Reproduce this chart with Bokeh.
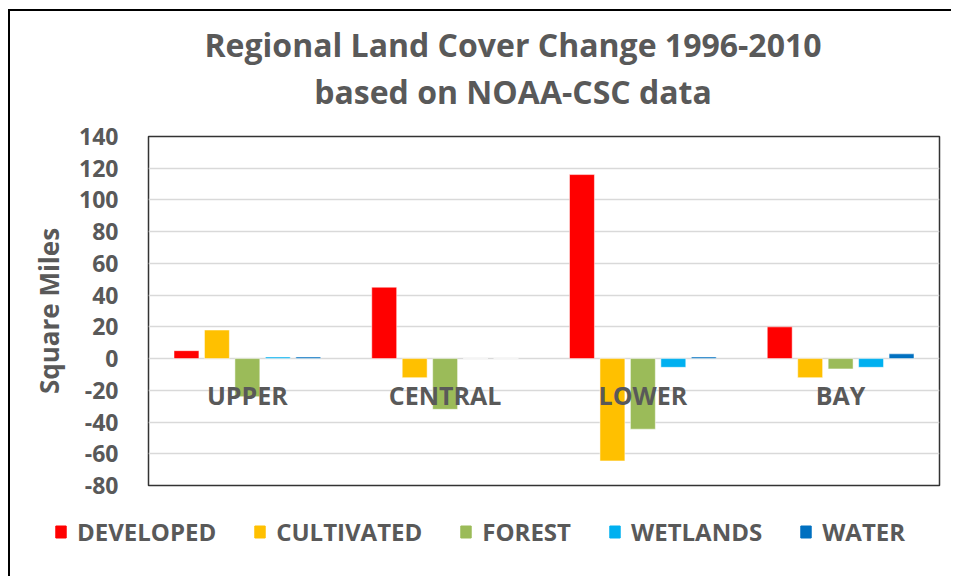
from bokeh.plotting import figure
from bokeh.models import (ColumnDataSource, FactorRange, Range1d, FixedTicker,
                          Legend, LegendItem, Div)
from bokeh.layouts import column
from bokeh.transform import dodge
from bokeh.core.properties import value
from bokeh.embed import file_html
from bokeh.resources import INLINE

# ---- data ----
title_lines = ["Regional Land Cover Change 1996-2010", "based on NOAA-CSC data"]
regions = ["UPPER", "CENTRAL", "LOWER", "BAY"]
developed = [5, 45, 116, 20]
cultivated = [18, -12, -64.5, -12]
forest = [-24, -32, -44.5, -6.5]
wetlands = [1, 0, -5.5, -5.5]
water = [1, 0, 1, 3]
series_names = ["DEVELOPED", "CULTIVATED", "FOREST", "WETLANDS", "WATER"]
series_keys = ["developed", "cultivated", "forest", "wetlands", "water"]
colors = ["#FF0000", "#FFC000", "#9BBB59", "#00B0F0", "#0070C0"]
y_ticks = [-80, -60, -40, -20, 0, 20, 40, 60, 80, 100, 120, 140]
y_tick_labels = ["-80", "-60", "-40", "-20", "0", "20", "40", "60", "80", "100", "120", "140"]

source = ColumnDataSource(dict(regions=regions, developed=developed, cultivated=cultivated,
                               forest=forest, wetlands=wetlands, water=water))

FONT = "Open Sans"
GREY = "#595959"
W = 941

# ---- title block ----
title_html = ('<div style="display: block; width: %dpx; box-sizing: border-box; '
              'font-family: \'Open Sans\'; font-weight: bold; font-size: 32px; '
              'color: %s; line-height: 47px; text-align: center; padding-top: 10px; '
              'padding-left: 65px; white-space: nowrap;">%s</div>' % (W, GREY, "<br>".join(title_lines)))
title = Div(text=title_html, width=W, height=109, margin=0)

# ---- main chart ----
p = figure(x_range=FactorRange(*regions, range_padding=0), y_range=Range1d(-80, 140),
           width=W, height=381, output_backend="svg", toolbar_location=None,
           min_border_left=138, min_border_right=12, min_border_top=16, min_border_bottom=16)

p.background_fill_color = "white"
p.border_fill_color = "white"
p.outline_line_color = "#333333"
p.outline_line_width = 1.5

step = 0.154
bw = 0.126
offsets = [-2 * step, -step, 0, step, 2 * step]
for key, col, off in zip(series_keys, colors, offsets):
    p.vbar(x=dodge("regions", off, range=p.x_range), top=key, bottom=0, width=bw,
           source=source, fill_color=col, line_color="white", line_width=0.5)

# category labels drawn near the zero line
label_y = [-23] * len(regions)
p.text(x=regions, y=label_y, text=regions, text_font=value(FONT), text_font_size="25px",
       text_font_style="bold", text_color=GREY, text_align="center", text_baseline="middle")

p.xaxis.visible = False
p.xgrid.grid_line_color = None
p.ygrid.grid_line_color = "#D9D9D9"
p.ygrid.grid_line_width = 1.3

p.yaxis.ticker = FixedTicker(ticks=y_ticks)
p.yaxis.major_label_overrides = {t: s for t, s in zip(y_ticks, y_tick_labels)}
p.yaxis.axis_line_color = None
p.yaxis.major_tick_line_color = None
p.yaxis.minor_tick_line_color = None
p.yaxis.major_label_standoff = 24
p.yaxis.major_label_text_font = FONT
p.yaxis.major_label_text_font_size = "23px"
p.yaxis.major_label_text_font_style = "bold"
p.yaxis.major_label_text_color = GREY
p.yaxis.axis_label = "Square Miles"
p.yaxis.axis_label_text_font = FONT
p.yaxis.axis_label_text_font_size = "26px"
p.yaxis.axis_label_text_font_style = "bold"
p.yaxis.axis_label_text_color = GREY
p.yaxis.axis_label_standoff = 9

top_block = column(title, p, spacing=0)
top_block.styles = {"border-top": "2px solid black", "border-left": "2px solid black",
                    "margin-left": "8px", "margin-top": "9px"}

# ---- legend strip (separate root so it is not frame-aligned with the chart) ----
lg = figure(x_range=Range1d(0, 1), y_range=Range1d(0, 1), width=W, height=75,
            output_backend="svg", toolbar_location=None,
            x_axis_location=None, y_axis_location=None,
            min_border_left=0, min_border_right=0, min_border_top=0, min_border_bottom=0)
lg.grid.grid_line_color = None
lg.outline_line_color = None
lg.background_fill_color = "white"
lg.border_fill_color = "white"
# swatch-only renderers: one bar each, kept outside the visible range
hidden = ColumnDataSource(dict(x=[-5], top=[-5]))
items = []
for name, col in zip(series_names, colors):
    r = lg.vbar(x="x", top="top", width=0.1, source=hidden, fill_color=col, line_color=col)
    items.append(LegendItem(label=name, renderers=[r]))

legend = Legend(items=items, orientation="horizontal", location=(44, 28),
                label_text_font=FONT, label_text_font_size="24px", label_text_font_style="bold",
                label_text_color=GREY, glyph_width=13, glyph_height=15, label_standoff=10,
                spacing=37, border_line_color=None, background_fill_alpha=0,
                margin=0, padding=0)
lg.add_layout(legend, "center")
lg.styles = {"border-left": "2px solid black", "margin-left": "8px"}

open("out.html", "w").write(file_html([top_block, lg], INLINE))
